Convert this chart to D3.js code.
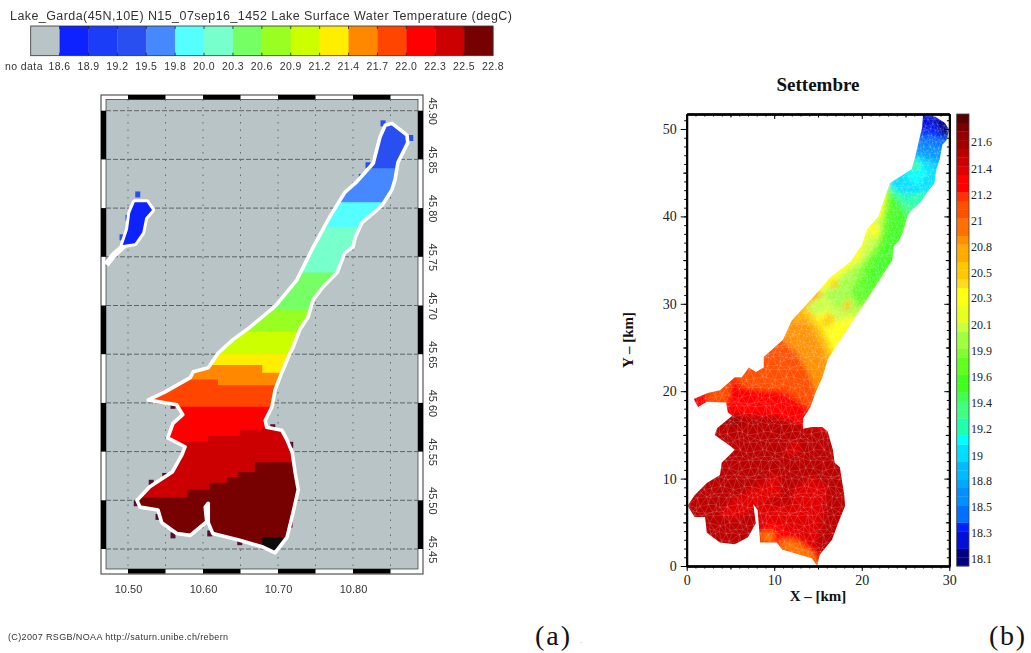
<!DOCTYPE html>
<html>
<head>
<meta charset="utf-8">
<script src="https://cdn.jsdelivr.net/npm/d3@7"></script>
<style>
  body { margin: 0; background: #fff; }
  svg { display: block; }
  .sans { font-family: "Liberation Sans", sans-serif; fill: #333; }
  .serif { font-family: "Liberation Serif", serif; fill: #111; }
</style>
</head>
<body>
<svg id="chart" width="1031" height="653"></svg>
<script>
// ---- panel (a) data: satellite lake surface temperature
const legendLabels = ["no data", "18.6", "18.9", "19.2", "19.5", "19.8", "20.0", "20.3", "20.6", "20.9", "21.2", "21.4", "21.7", "22.0", "22.3", "22.5", "22.8"];
const legendColors = ["#b9c4c7", "#0a22ff", "#1e3cf8", "#2a50f0", "#4488ff", "#55ffff", "#77ffcc", "#77ff66", "#99ff22", "#ccff00", "#ffee00", "#ff8800", "#ff4400", "#ff0000", "#cc0000", "#770000"];
const lonTicks = [10.5, 10.6, 10.7, 10.8];
const lonGrid = [10.5, 10.55, 10.6, 10.65, 10.7, 10.75, 10.8, 10.85];
const latTicks = [45.9, 45.85, 45.8, 45.75, 45.7, 45.65, 45.6, 45.55, 45.5, 45.45];
const lonBars = [[10.5, 10.55], [10.6, 10.65], [10.7, 10.75], [10.8, 10.85]];
const latBars = [[45.85, 45.9], [45.75, 45.8], [45.65, 45.7], [45.55, 45.6], [45.45, 45.5]];

// lake shore in lon/lat
const gardaShore = [[10.852,45.887],[10.872,45.875],[10.873,45.867],[10.860,45.847],[10.856,45.829],[10.852,45.819],[10.839,45.803],[10.829,45.796],[10.812,45.785],[10.803,45.770],[10.800,45.760],[10.789,45.754],[10.779,45.734],[10.760,45.719],[10.747,45.706],[10.740,45.688],[10.729,45.675],[10.720,45.657],[10.716,45.651],[10.705,45.631],[10.696,45.613],[10.692,45.596],[10.683,45.582],[10.685,45.575],[10.705,45.572],[10.712,45.562],[10.719,45.549],[10.723,45.528],[10.727,45.511],[10.720,45.487],[10.712,45.462],[10.696,45.446],[10.680,45.452],[10.649,45.459],[10.613,45.466],[10.607,45.477],[10.607,45.497],[10.603,45.493],[10.605,45.478],[10.583,45.464],[10.565,45.466],[10.545,45.477],[10.540,45.490],[10.516,45.493],[10.512,45.500],[10.529,45.514],[10.559,45.529],[10.572,45.547],[10.576,45.555],[10.553,45.564],[10.560,45.579],[10.573,45.588],[10.565,45.598],[10.527,45.603],[10.549,45.611],[10.583,45.626],[10.587,45.632],[10.607,45.636],[10.620,45.651],[10.640,45.665],[10.663,45.678],[10.696,45.699],[10.725,45.726],[10.747,45.760],[10.769,45.791],[10.789,45.816],[10.805,45.827],[10.827,45.846],[10.836,45.873],[10.843,45.885]];
const smallLake = [[10.509,45.806],[10.525,45.806],[10.532,45.798],[10.523,45.790],[10.519,45.775],[10.509,45.764],[10.493,45.762],[10.500,45.778],[10.503,45.795]];
const smallRiver = [[10.497,45.763],[10.480,45.751],[10.471,45.742]];

// temperature bands, north to south: legend colour index and southern edge of the band
const bandIndex = [3, 4, 5, 6, 7, 8, 9, 10, 11, 12, 13, 14, 15];
const bandEdges = [
  [[10.46,45.92],[10.9,45.92]],
  [[10.46,45.841],[10.9,45.841]],
  [[10.46,45.806],[10.9,45.806]],
  [[10.46,45.780],[10.9,45.780]],
  [[10.46,45.734],[10.9,45.734]],
  [[10.46,45.695],[10.9,45.695]],
  [[10.46,45.673],[10.9,45.673]],
  [[10.46,45.650],[10.9,45.650]],
  [[10.46,45.639],[10.679,45.631],[10.9,45.631]],
  [[10.46,45.624],[10.62,45.618],[10.9,45.618]],
  [[10.46,45.596],[10.9,45.596]],
  [[10.46,45.560],[10.607,45.566],[10.649,45.572],[10.679,45.574],[10.9,45.574]],
  [[10.46,45.503],[10.579,45.511],[10.609,45.518],[10.632,45.524],[10.647,45.529],[10.669,45.539],[10.9,45.539]]
];
const blackPatch = [[10.679,45.462],[10.707,45.462]];
const maroonSpecks = [[10.511,45.497],[10.540,45.483],[10.531,45.518],[10.560,45.597],[10.717,45.557],[10.716,45.475],[10.609,45.466],[10.560,45.464],[10.649,45.457],[10.693,45.575],[10.549,45.525]];
const blueSpecks = [[10.840,45.887],[10.877,45.872],[10.820,45.844],[10.811,45.832],[10.500,45.790],[10.492,45.770],[10.513,45.814]];

// ---- panel (b) data: model temperature on the mesh
const cbLabels = ["18.1", "18.3", "18.5", "18.8", "19", "19.2", "19.4", "19.6", "19.9", "20.1", "20.3", "20.5", "20.8", "21", "21.2", "21.4", "21.6"];
const cbValues = [18.10, 18.32, 18.54, 18.76, 18.97, 19.19, 19.41, 19.63, 19.85, 20.07, 20.29, 20.50, 20.72, 20.94, 21.16, 21.38, 21.60];
// colour bar cells, bottom to top
const cbColors = ["#000080","#000080","#0010d8","#0010d8","#0020ff","#0070ff","#0070ff","#0090ff","#0090ff","#00a8ff","#00bbff","#00bbff","#00ddff","#00e0ff","#00ffff","#20ffb0","#20ffb0","#40ff80","#40ff80","#40ff50","#40ff20","#40ff20","#60ff20","#60ff20","#80ff30","#a0ff40","#a0ff40","#c8ff40","#e4ff20","#e8ff20","#ffff10","#ffff10","#ffdc20","#ffc800","#ffc800","#ffab00","#ffab00","#ff9000","#ff7000","#ff7000","#ff5000","#ff5000","#ff3300","#ff0000","#ff0000","#e00000","#cc0000","#bb0000","#a00000","#960000","#7a0000","#5a0000"];

// lake outline in km
const meshShore = [[27.0,51.6],[28.4,51.4],[29.5,50.7],[30.0,49.9],[29.7,48.7],[29.2,48.2],[28.9,46.5],[28.5,45.3],[28.3,43.8],[27.5,42.8],[26.7,41.6],[25.5,40.5],[25.2,40.0],[24.7,38.2],[24.3,37.3],[23.6,36.5],[23.5,35.0],[21.5,31.9],[20.0,29.6],[17.7,26.1],[16.1,23.6],[15.5,21.6],[14.7,19.8],[14.1,18.1],[13.3,16.9],[13.3,15.7],[14.3,15.9],[15.5,15.9],[16.1,15.4],[16.7,13.3],[16.9,11.8],[17.5,11.3],[18.0,8.1],[18.1,6.9],[17.3,4.9],[16.6,3.0],[15.2,1.3],[14.9,0],[14.3,0.9],[10.9,1.9],[10.3,2.7],[8.4,2.7],[8.1,6.4],[7.6,7.1],[7.9,4.9],[7.0,3.3],[5.5,2.5],[3.8,2.7],[2.3,3.8],[2.1,5.6],[0.9,5.6],[0.1,6.9],[0.9,8.1],[2.3,9.5],[3.8,10.4],[4.0,11.8],[5.5,13.3],[4.9,13.8],[3.2,15.0],[3.5,15.8],[5.2,17.2],[4.7,17.6],[4.5,18.7],[2.3,18.8],[1.3,18.2],[0.8,19.1],[2.4,19.8],[3.8,20.1],[5.5,21.6],[6.3,21.6],[7.1,22.7],[7.9,22.2],[8.8,22.7],[8.8,23.9],[11.0,25.9],[12.0,28.1],[14.4,30.7],[16.4,33.0],[18.7,34.8],[20.0,36.7],[20.6,38.5],[21.9,40.0],[23.2,43.8],[25.7,45.4],[26.1,46.8],[26.9,50.2]];

// temperature zones, painted in this order
const zoneTemps = [21.5, 21.36, 21.36, 21.25, 20.95, 20.95, 21.25, 21.02, 20.78, 20.6, 20.5, 20.3, 20.05, 20.05, 19.9, 19.72, 19.55, 19.41, 19.21, 19.0, 18.85, 18.66, 18.55, 18.4, 18.25, 18.08, 20.7, 20.55, 20.55, 20.55, 20.3, 19.1, 19.5, 21.65, 21.36];
const zoneShapes = [
  [[0,0],[30,0],[30,52],[0,52]],
  [[3.8,6.4],[6.1,8.1],[10.4,10.6],[10.9,8.1],[8.4,7],[5.5,5.3],[4,5.6]],
  [[8,7],[12,7],[12.1,8.7],[14.1,10.1],[16,9.3],[15.9,7.6],[14.7,2],[11,2],[8,3]],
  [[8.1,2.8],[9.5,5.3],[12.4,3.5],[15.2,1.5],[14.7,0.1],[11.2,1.8],[8.4,2.7]],
  [[8.4,3.9],[9.9,3.9],[10.1,2.7],[8.6,2.7]],
  [[10.7,3],[12.4,3],[14.7,1.3],[15,0.1],[13.9,0.5],[10.7,1.8]],
  [[0,17.5],[6,17.3],[10,17.2],[13,16.2],[16,15.5],[30,15.5],[30,52],[0,52]],
  [[2.4,18.5],[4.6,18.6],[5.2,21.8],[6.3,20.5],[8.7,20.1],[11,20.1],[13.3,18.6],[14.1,17.8],[30,15.5],[30,52],[2.4,52]],
  [[9,30],[11,25.9],[12.6,24.4],[13.9,22.1],[15,19.5],[30,15],[30,52],[9,52]],
  [[11.5,31],[11.8,28.1],[13.7,27.8],[14.9,25.9],[15.8,23.9],[17,22],[30,20],[30,52],[11.5,52]],
  [[12.8,30],[13.5,28.6],[15,27],[15.9,25],[16.6,23],[30,21],[30,52],[12.8,52]],
  [[13.6,30],[14.3,29],[15.4,27.3],[16.3,25.6],[17,23.5],[30,21],[30,52],[13.6,52]],
  [[13.7,29.6],[15.2,31.2],[18.3,33.9],[20.2,35.6],[25,38],[25,28],[18.3,28.5],[17.2,27.9],[16.2,29.3],[14.7,28.6]],
  [[19.8,35.6],[21.6,39.8],[22.8,40],[22.5,36],[20.5,34.8]],
  [[15.8,31],[18.7,33.9],[20.2,34.8],[21,31.6],[19.8,29.3],[18.1,28.8],[16.9,30]],
  [[18.7,31.2],[19.8,29.6],[22,31],[30,36],[30,52],[23,52],[23,44],[22.5,40.5],[22.2,38],[21.6,36.5],[20.4,35],[19.8,33.5]],
  [[20.2,31],[23,34],[30,38],[30,52],[23.5,52],[23.5,44],[23.3,41],[23,38.5],[22.4,36.5],[21.2,34.5]],
  [[23,43],[23.8,42.2],[25.5,39.5],[30,41],[30,52],[23,52]],
  [[23,43.3],[25,41.3],[26.7,41],[30,42],[30,52],[23,52]],
  [[23,43.5],[25,42.5],[27,42.8],[30,43],[30,52],[23,52]],
  [[25,47],[26.5,46.8],[28.9,45.3],[30,45],[30,52],[25,52]],
  [[25,47.2],[26.3,47.2],[28.6,46.6],[30,46.5],[30,52],[25,52]],
  [[25,48.3],[27,48.2],[29.2,48],[30,47.8],[30,52],[25,52]],
  [[25,49.5],[27,49.3],[29,49],[30,48.7],[30,52],[25,52]],
  [[25,50],[27,50],[28.5,50.2],[30,49.5],[30,52],[25,52]],
  [[28.5,50.5],[29.3,49],[30,49],[30,51],[29,51]],
  [[11.5,28.2],[14,30],[15.5,31],[14.6,32],[12,29]],
  [[16.3,32],[16.9,32.9],[17.4,32.2],[16.8,31.6]],
  [[15.3,27.9],[16.2,29],[17,28.2],[16,27.2]],
  [[17.7,29.5],[18.4,30.6],[18.9,30],[18.2,29]],
  [[21,37.8],[21.3,39.2],[22,38.8],[21.8,37.6]],
  [[25,44.5],[26.5,43.5],[27.5,45],[26.5,46.5],[25.7,46]],
  [[25.8,45.4],[26.1,46.9],[26.6,45.5]],
  [[4.9,16.8],[5.8,17.5],[6.3,16.3],[5.3,16]],
  [[11.3,13],[12.2,14.5],[13.1,13.6],[12.3,12.6]]
];

const svg = d3.select("#chart");
const defs = svg.append("defs");
defs.append("filter").attr("id", "soft").append("feGaussianBlur").attr("stdDeviation", 0.55);
defs.append("filter").attr("id", "smear")
  .attr("x", 0).attr("y", 0).attr("width", 1).attr("height", 1)
  .append("feGaussianBlur").attr("stdDeviation", 2.4);

drawSatellite();
drawModel();

function drawSatellite() {
  const panel = svg.append("g").attr("filter", "url(#soft)");

  // title and colour legend
  panel.append("text").attr("class", "sans").attr("x", 10).attr("y", 20)
    .attr("font-size", 12.5).attr("textLength", 502).attr("lengthAdjust", "spacing")
    .text("Lake_Garda(45N,10E) N15_07sep16_1452 Lake Surface Water Temperature (degC)");

  const legendX = d3.scaleLinear().domain([0, legendColors.length]).range([30.7, 493]);
  const legendTop = 26, legendBottom = 55.7;
  panel.append("g").selectAll("rect").data(legendColors).join("rect")
    .attr("x", (d, i) => legendX(i))
    .attr("y", legendTop)
    .attr("width", legendX(1) - legendX(0) + 0.3)
    .attr("height", legendBottom - legendTop)
    .attr("fill", d => d);
  panel.append("rect").attr("x", legendX(0)).attr("y", legendTop)
    .attr("width", legendX(16) - legendX(0)).attr("height", legendBottom - legendTop)
    .attr("fill", "none").attr("stroke", "#333").attr("stroke-width", 0.8);
  panel.append("g").selectAll("path").data(d3.range(1, 16)).join("path")
    .attr("d", i => `M${legendX(i)},${legendTop}v3M${legendX(i)},${legendBottom}v-3`)
    .attr("stroke", "#222").attr("stroke-width", 0.8);
  panel.append("g").selectAll("text").data(legendLabels).join("text")
    .attr("class", "sans")
    .attr("x", (d, i) => i === 0 ? 24 : legendX(i))
    .attr("y", 70)
    .attr("text-anchor", "middle")
    .attr("font-size", 10.5)
    .attr("letter-spacing", 0.4)
    .text(d => d);

  // map frame
  const lon = d3.scaleLinear().domain([10.5, 10.8]).range([128, 353]);
  const lat = d3.scaleLinear().domain([45.45, 45.9]).range([549, 110.7]);
  const frame = { left: 101, right: 423, top: 95, bottom: 574 };
  const inner = { left: 106, right: 418, top: 99.5, bottom: 569 };

  panel.append("rect").attr("x", frame.left).attr("y", frame.top)
    .attr("width", frame.right - frame.left).attr("height", frame.bottom - frame.top)
    .attr("fill", "#fff").attr("stroke", "#333").attr("stroke-width", 1);
  panel.append("rect").attr("x", inner.left).attr("y", inner.top)
    .attr("width", inner.right - inner.left).attr("height", inner.bottom - inner.top)
    .attr("fill", legendColors[0]).attr("stroke", "#333").attr("stroke-width", 0.7);

  // black and white bars on the frame
  lonBars.forEach(b => {
    [frame.top, inner.bottom].forEach(y => {
      panel.append("rect").attr("x", lon(b[0])).attr("y", y)
        .attr("width", lon(b[1]) - lon(b[0])).attr("height", 4.5)
        .attr("fill", "#000");
    });
  });
  latBars.forEach(b => {
    [frame.left, inner.right].forEach(x => {
      panel.append("rect").attr("x", x).attr("y", lat(b[1]))
        .attr("width", 5).attr("height", lat(b[0]) - lat(b[1]))
        .attr("fill", "#000");
    });
  });

  // grid, horizontal lines dashed and vertical ones dotted
  panel.append("g").selectAll("line").data(latTicks).join("line")
    .attr("x1", inner.left).attr("x2", inner.right)
    .attr("y1", d => lat(d)).attr("y2", d => lat(d))
    .attr("stroke", "#55595c").attr("stroke-width", 0.9).attr("stroke-dasharray", "5,2");
  panel.append("g").selectAll("line").data(lonGrid).join("line")
    .attr("x1", d => lon(d)).attr("x2", d => lon(d))
    .attr("y1", inner.top).attr("y2", inner.bottom)
    .attr("stroke", "#666a6d").attr("stroke-width", 1).attr("stroke-dasharray", "1.5,6");

  // axis labels
  const lonAxis = panel.append("g").attr("transform", "translate(0,576)")
    .call(d3.axisBottom(lon).tickValues(lonTicks).tickFormat(d3.format(".2f")).tickSize(0).tickPadding(9));
  const latAxis = panel.append("g").attr("transform", "translate(424,0)")
    .call(d3.axisRight(lat).tickValues(latTicks).tickFormat(d3.format(".2f")).tickSize(0));
  lonAxis.select(".domain").remove();
  latAxis.select(".domain").remove();
  [lonAxis, latAxis].forEach(a => a.selectAll("text")
    .attr("font-family", "Liberation Sans").attr("font-size", 11).attr("fill", "#333"));
  latAxis.selectAll("text").attr("x", 9).attr("dy", "0.35em").attr("text-anchor", "middle")
    .attr("transform", "rotate(90,9,0)");

  const shoreLine = d3.line().x(d => lon(d[0])).y(d => lat(d[1])).curve(d3.curveLinearClosed);

  // specks the land mask leaves along the coast
  const specks = (points, colour) => panel.append("g").selectAll("rect").data(points).join("rect")
    .attr("x", d => lon(d[0]) - 2.5).attr("y", d => lat(d[1]) - 3)
    .attr("width", 5).attr("height", 6).attr("fill", colour);
  specks(maroonSpecks, "#5a1030");
  specks(blueSpecks, "#2a50f0");

  // small lake on the west side, with its white strip to the frame
  panel.append("path")
    .attr("d", d3.line().x(d => lon(d[0])).y(d => lat(d[1]))(smallRiver))
    .attr("fill", "none").attr("stroke", "#fff").attr("stroke-width", 6);
  panel.append("path").attr("d", shoreLine(smallLake))
    .attr("fill", legendColors[1]).attr("stroke", "#fff").attr("stroke-width", 6)
    .attr("stroke-linejoin", "round").attr("paint-order", "stroke");

  // temperature bands clipped to the shore
  defs.append("clipPath").attr("id", "gardaClip").append("path").attr("d", shoreLine(gardaShore));
  const bandArea = d3.area().curve(d3.curveStepAfter)
    .x(d => lon(d[0])).y0(lat(45.42)).y1(d => lat(d[1]));
  const bands = panel.append("g").attr("clip-path", "url(#gardaClip)");
  bands.selectAll("path").data(bandEdges).join("path")
    .attr("d", d => bandArea(d))
    .attr("fill", (d, i) => legendColors[bandIndex[i]]);
  bands.append("path").attr("d", bandArea(blackPatch)).attr("fill", "#111");
  panel.append("path").attr("d", shoreLine(gardaShore))
    .attr("fill", "none").attr("stroke", "#fff").attr("stroke-width", 3.6)
    .attr("stroke-linejoin", "round");

  // credit line
  panel.append("text").attr("class", "sans").attr("x", 8).attr("y", 640)
    .attr("font-size", 9).attr("textLength", 220).attr("lengthAdjust", "spacing")
    .text("(C)2007 RSGB/NOAA http://saturn.unibe.ch/rebern");

  svg.append("text").attr("class", "serif").attr("x", 535).attr("y", 645)
    .attr("font-size", 28).attr("textLength", 35).attr("lengthAdjust", "spacing").text("(a)");
  svg.append("text").attr("x", 580).attr("y", 643).attr("font-size", 9).attr("fill", "#aaa").text(".");
}

function drawModel() {
  const panel = svg.append("g");
  const x = d3.scaleLinear().domain([0, 30]).range([686.7, 949.3]);
  const y = d3.scaleLinear().domain([0, 50]).range([566, 129]);
  const yTop = 114;
  const kmTop = y.invert(yTop);

  // temperature to colour bar cell
  const tempMin = 18.04, tempMax = 21.835;
  const colour = d3.scaleQuantize().domain([tempMin, tempMax]).range(cbColors);

  const shape = d3.line().x(d => x(d[0])).y(d => y(d[1])).curve(d3.curveLinearClosed);
  defs.append("clipPath").attr("id", "meshClip").append("path").attr("d", shape(meshShore));

  const lake = panel.append("g").attr("clip-path", "url(#meshClip)");
  const zones = lake.append("g").attr("filter", "url(#smear)");
  zones.selectAll("path").data(zoneShapes).join("path")
    .attr("d", d => shape(d))
    .attr("fill", (d, i) => colour(zoneTemps[i]));

  // pale triangle mesh over the field: coarse in the basin, finer up the arm
  const wobble = [0.17, -0.29, 0.05, 0.33, -0.13, -0.37, 0.23, 0.01, -0.21, 0.37, -0.05, 0.11];
  const nodes = [];
  [[0, 24, 0.8], [24, 53, 0.5]].forEach(([y0, y1, step]) => {
    d3.range(y0, y1, step * 0.87).forEach((ky, row) => {
      d3.range(0, 31, step).forEach((kx, col) => {
        const a = wobble[(row * 5 + col * 7) % wobble.length];
        const b = wobble[(row * 7 + col * 3 + 4) % wobble.length];
        nodes.push([x(kx + (row % 2) * step / 2 + a * step), y(ky + b * step)]);
      });
    });
  });
  lake.append("path")
    .attr("d", d3.Delaunay.from(nodes).render())
    .attr("fill", "none").attr("stroke", "#fff").attr("stroke-width", 0.6).attr("stroke-opacity", 0.26);

  // axes: ticks out on left and bottom, in on top and right
  const styleAxis = g => {
    g.select(".domain").attr("stroke", "#000").attr("stroke-width", 1.8);
    g.selectAll(".tick line").attr("stroke", "#000").attr("stroke-width", 1);
    g.selectAll("text").attr("font-family", "Liberation Serif").attr("font-size", 14).attr("fill", "#222");
  };
  const km = d3.range(0, 52);
  const xMinor = d3.range(0, 31);
  const yScaleFull = y.copy().domain([0, kmTop]).range([566, yTop]);
  const xTicks = [0, 10, 20, 30];
  const yTicks = [0, 10, 20, 30, 40, 50];
  const noLabel = () => "";

  const addSide = (axisFn, scale, transform, values, size, withLabels) => {
    const g = panel.append("g").attr("transform", transform)
      .call(axisFn(scale).tickValues(values).tickSize(size).tickSizeOuter(0).tickPadding(4)
        .tickFormat(withLabels ? d3.format("d") : noLabel));
    styleAxis(g);
    return g;
  };
  const kmFives = v => v.filter(d => d % 5 === 0 && d % 10 !== 0);
  // left and bottom
  addSide(d3.axisLeft, yScaleFull, `translate(${x(0)},0)`, km, 2.5, false);
  addSide(d3.axisLeft, yScaleFull, `translate(${x(0)},0)`, kmFives(km), 3.5, false);
  addSide(d3.axisLeft, yScaleFull, `translate(${x(0)},0)`, yTicks, 6, true);
  addSide(d3.axisBottom, x, `translate(0,${y(0)})`, xMinor, 2.5, false);
  addSide(d3.axisBottom, x, `translate(0,${y(0)})`, kmFives(xMinor), 3.5, false);
  addSide(d3.axisBottom, x, `translate(0,${y(0)})`, xTicks, 5, true);
  // top and right, pointing inwards
  addSide(d3.axisTop, x, `translate(0,${yTop})`, xMinor, -2.5, false);
  addSide(d3.axisTop, x, `translate(0,${yTop})`, kmFives(xMinor), -3.5, false);
  addSide(d3.axisTop, x, `translate(0,${yTop})`, xTicks, -5, false);
  addSide(d3.axisRight, yScaleFull, `translate(${x(30)},0)`, km, -2.5, false);
  addSide(d3.axisRight, yScaleFull, `translate(${x(30)},0)`, kmFives(km), -3.5, false);
  addSide(d3.axisRight, yScaleFull, `translate(${x(30)},0)`, yTicks, -5, false);

  // labels
  panel.append("text").attr("class", "serif").attr("x", 818).attr("y", 91)
    .attr("text-anchor", "middle").attr("font-size", 19).attr("font-weight", "bold").text("Settembre");
  panel.append("text").attr("class", "serif").attr("x", 818).attr("y", 601)
    .attr("text-anchor", "middle").attr("font-size", 15).attr("font-weight", "bold").text("X \u2013 [km]");
  panel.append("text").attr("class", "serif")
    .attr("transform", "translate(633,340) rotate(-90)")
    .attr("text-anchor", "middle").attr("font-size", 15).attr("font-weight", "bold").text("Y \u2013 [km]");

  // colour bar
  const cb = d3.scaleLinear().domain([tempMin, tempMax]).range([566, yTop]);
  const cellStep = (tempMax - tempMin) / cbColors.length;
  const cbLeft = 956.7, cbWidth = 12.3;
  panel.append("g").selectAll("rect").data(cbColors).join("rect")
    .attr("x", cbLeft)
    .attr("y", (d, i) => cb(tempMin + (i + 1) * cellStep))
    .attr("width", cbWidth)
    .attr("height", cb(tempMin) - cb(tempMin + cellStep) + 0.3)
    .attr("fill", d => d);
  panel.append("rect").attr("x", cbLeft).attr("y", yTop).attr("width", cbWidth).attr("height", 566 - yTop)
    .attr("fill", "none").attr("stroke", "#444").attr("stroke-width", 0.8);
  const cbAxis = panel.append("g").attr("transform", `translate(${cbLeft + cbWidth},0)`)
    .call(d3.axisRight(cb).tickValues(cbValues).tickSize(0).tickPadding(2)
      .tickFormat((d, i) => cbLabels[i]));
  cbAxis.select(".domain").remove();
  cbAxis.selectAll("text").attr("font-family", "Liberation Serif").attr("font-size", 12).attr("fill", "#222");

  svg.append("text").attr("class", "serif").attr("x", 989).attr("y", 645)
    .attr("font-size", 28).attr("textLength", 36).attr("lengthAdjust", "spacing").text("(b)");
}
</script>
</body>
</html>
